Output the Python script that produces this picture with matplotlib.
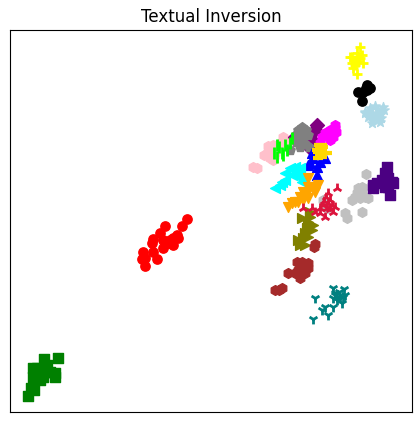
import matplotlib
matplotlib.use('Agg')
import matplotlib.pyplot as plt

# positions, image-style coords (y runs downward)
red_x = [187, 182, 177, 178, 173, 170, 165, 160, 163, 163, 153, 152, 153, 143, 142, 145, 157, 145, 173, 168]
red_y = [219, 226, 235, 238, 245, 240, 226, 233, 240, 248, 239, 243, 252, 252, 259, 266, 259, 258, 238, 243]
green_x = [58, 44, 47, 33, 38, 33, 43, 55, 55, 40, 31, 34, 28, 50, 37, 45]
green_y = [358, 359, 365, 368, 373, 377, 377, 373, 377, 380, 388, 390, 396, 372, 368, 372]
yellow_x = [360, 352, 357, 362, 350, 355, 363, 355, 353, 357, 360, 358, 352]
yellow_y = [47, 57, 53, 55, 57, 60, 63, 65, 68, 74, 58, 62, 63]
black_x = [367, 370, 367, 363, 358, 362, 366]
black_y = [85, 88, 90, 92, 92, 101, 88]
lblue_x = [375, 383, 370, 378, 365, 372, 381, 384, 368, 375, 381, 372, 378, 365, 372, 376, 368, 380]
lblue_y = [106, 107, 108, 110, 112, 113, 114, 110, 117, 118, 118, 120, 120, 113, 123, 114, 112, 122]
gray_x = [302, 298, 306, 296, 303, 308, 300, 296, 304, 300, 309, 290]
gray_y = [127, 130, 130, 135, 135, 135, 140, 142, 143, 147, 147, 150]
purple_x = [317, 315, 312, 310, 295]
purple_y = [125, 130, 140, 148, 137]
magenta_x = [335, 336, 330, 322, 330, 320, 335, 325, 333]
magenta_y = [125, 132, 130, 137, 140, 143, 128, 133, 137]
pink_x = [283, 273, 268, 270, 273, 257, 253, 280, 275, 290, 268, 274, 264]
pink_y = [137, 145, 152, 158, 160, 168, 167, 143, 153, 140, 146, 156, 155]
lime_x = [274, 279, 277, 282, 285, 283, 292, 290, 277, 287]
lime_y = [153, 147, 157, 153, 145, 155, 138, 143, 145, 150]
gold_x = [322, 320, 325, 320, 318, 323, 327, 317, 322, 322, 318, 319]
gold_y = [145, 148, 153, 155, 158, 147, 153, 150, 150, 157, 152, 145]
blue_x = [313, 310, 320, 325, 317, 317, 308, 312]
blue_y = [158, 163, 162, 158, 167, 175, 165, 153]
cyan_x = [295, 290, 285, 300, 300, 282, 275, 285, 292, 297, 302, 293, 280]
cyan_y = [167, 168, 173, 168, 178, 182, 188, 180, 175, 173, 182, 170, 185]
orange_x = [308, 308, 318, 315, 303, 300, 295, 288, 307, 312, 308, 292, 303, 298]
orange_y = [178, 187, 185, 192, 192, 197, 202, 207, 193, 187, 198, 203, 200, 202]
crimson_x = [337, 328, 330, 335, 327, 320, 325, 303, 315, 332, 323, 328, 312, 326, 333, 320, 330, 324]
crimson_y = [188, 193, 200, 207, 208, 208, 217, 208, 212, 205, 205, 203, 208, 197, 212, 213, 209, 201]
silver_x = [366, 362, 357, 365, 352, 360, 368, 345, 347, 362, 323, 327, 355, 362, 358]
silver_y = [174, 187, 193, 197, 200, 198, 198, 213, 218, 212, 200, 208, 197, 192, 188]
indigo_x = [387, 385, 382, 373, 392, 377, 388, 390, 393, 385, 388, 373]
indigo_y = [167, 173, 180, 185, 182, 183, 178, 195, 183, 187, 187, 188]
olive_x = [302, 308, 313, 307, 305, 312, 303, 308, 298, 305, 300, 310, 310]
olive_y = [218, 222, 225, 228, 233, 230, 238, 237, 240, 245, 245, 217, 212]
brown_x = [315, 314, 297, 308, 303, 298, 288, 295, 300, 305, 308, 275, 282, 279, 302]
brown_y = [244, 247, 262, 263, 267, 270, 273, 273, 278, 273, 268, 290, 288, 290, 262]
teal_x = [333, 344, 315, 335, 338, 333, 343, 345, 342, 333, 325, 322, 328, 313, 337, 340, 335, 339]
teal_y = [288, 289, 298, 293, 297, 298, 297, 295, 303, 307, 307, 310, 315, 319, 300, 298, 295, 292]

plt.rcParams['figure.figsize'] = (4.2, 4.23)
fig, ax = plt.subplots()
fig.subplots_adjust(left=10/420, right=412/420, top=1-30/423, bottom=1-412/423)

size = 50
ax.scatter(pink_x, pink_y, s=size, c='pink', marker='h')
ax.scatter(red_x, red_y, s=45, c='red', marker='o')
ax.scatter(green_x, green_y, s=size, c='green', marker='s')
ax.scatter(yellow_x, yellow_y, s=size, c='yellow', marker='+', linewidths=2)
ax.scatter(black_x, black_y, s=45, c='black', marker='o')
ax.scatter(lblue_x, lblue_y, s=size, c='lightblue', marker='*')
ax.scatter(purple_x, purple_y, s=size, c='purple', marker='D')
ax.scatter(gray_x, gray_y, s=size, c='gray', marker='p')
ax.scatter(magenta_x, magenta_y, s=size, c='magenta', marker='h')
ax.scatter(lime_x, lime_y, s=70, c='lime', marker='|', linewidths=2)
ax.scatter(blue_x, blue_y, s=size, c='blue', marker='^')
ax.scatter(silver_x, silver_y, s=size, c='silver', marker='h')
ax.scatter(cyan_x, cyan_y, s=size, c='cyan', marker='<')
ax.scatter(orange_x, orange_y, s=size, c='orange', marker='v')
ax.scatter(gold_x, gold_y, s=60, c='gold', marker='_', linewidths=3)
ax.scatter(olive_x, olive_y, s=size, c='olive', marker='>')
ax.scatter(crimson_x, crimson_y, s=size, c='crimson', marker='2', linewidths=2)
ax.scatter(indigo_x, indigo_y, s=size, c='indigo', marker='s')
ax.scatter(brown_x, brown_y, s=size, c='brown', marker='h')
ax.scatter(teal_x, teal_y, s=size, c='teal', marker='1', linewidths=2)

ax.set_xlim(10, 412)
ax.set_ylim(412, 30)
ax.set_xticks([])
ax.set_yticks([])
ax.set_title('Textual Inversion')
plt.savefig('out.png', dpi=100)
